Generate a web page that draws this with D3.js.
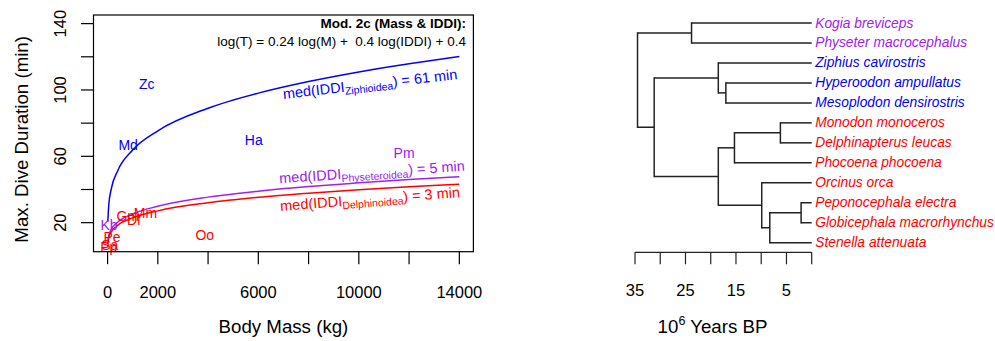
<!DOCTYPE html>
<html>
<head>
<meta charset="utf-8">
<script src="https://cdn.jsdelivr.net/npm/d3@7"></script>
<style>
  html, body { margin: 0; padding: 0; background: #fff; }
  svg { display: block; font-family: "Liberation Sans", Arial, Helvetica, sans-serif; }
</style>
</head>
<body>
<svg id="chart" width="995" height="341"></svg>
<script>
// ---------------- data ----------------
const cladeNames = ["Physeteroidea", "Ziphioidea", "Delphinoidea"];
const cladeColors = ["#A020F0", "#0000FF", "#FF0000"];
const cladeIDDI = [5, 61, 3];

// species points (abbrev, body mass kg, max dive duration min, clade index)
const ptLabel = ["Kb", "Pm", "Zc", "Ha", "Md", "Mm", "Dl", "Pp", "Oo", "Pe", "Gm", "Sa"];
const ptMass  = [60, 11800, 1560, 5820, 820, 1510, 1040, 50, 3870, 180, 800, 90];
const ptDur   = [18.6, 62.2, 103.5, 69.9, 66.9, 25.9, 21.7, 5.6, 12.6, 11.6, 24.0, 6.4];
const ptClade = [0, 0, 1, 1, 1, 2, 2, 2, 2, 2, 2, 2];

// fitted curves
const curveMass = [9, 50, 150, 400, 1000, 2000, 4000, 6000, 8000, 10000, 12000, 14000];
const curveZiph = [20.6, 31.1, 40.5, 51.2, 63.8, 75.4, 89.0, 98.1, 105.1, 110.9, 115.8, 120.2];
const curvePhys = [8.2, 12.4, 16.1, 20.3, 25.3, 29.9, 35.4, 39.0, 41.8, 44.0, 46.0, 47.7];
const curveDelph = [7.4, 11.2, 14.5, 18.4, 22.9, 27.1, 32.0, 35.3, 37.8, 39.9, 41.6, 43.2];

const xTicks = [0, 2000, 4000, 6000, 8000, 10000, 12000, 14000];
const xTickLabels = ["0", "2000", "", "6000", "", "10000", "", "14000"];
const yTicks = [20, 40, 60, 80, 100, 120, 140];
const yTickLabels = ["20", "", "60", "", "100", "", "140"];

// phylogeny
const tipNames = ["Kogia breviceps", "Physeter macrocephalus", "Ziphius cavirostris",
  "Hyperoodon ampullatus", "Mesoplodon densirostris", "Monodon monoceros",
  "Delphinapterus leucas", "Phocoena phocoena", "Orcinus orca",
  "Peponocephala electra", "Globicephala macrorhynchus", "Stenella attenuata"];
const tipClade = [0, 0, 1, 1, 1, 2, 2, 2, 2, 2, 2, 2];
const nodeIds = ["root", "phy", "odo", "ziph", "hypmes", "delphinoid", "monphoc", "mondel", "delphinid", "pepglobsten", "pepglob"];
const nodeAges = [34.5, 23.8, 31.2, 18.5, 17.0, 18.5, 15.3, 6.2, 9.9, 8.3, 2.1];
const nodeChildren = [["phy", "odo"], ["t0", "t1"], ["ziph", "delphinoid"], ["t2", "hypmes"], ["t3", "t4"],
  ["monphoc", "delphinid"], ["mondel", "t7"], ["t5", "t6"], ["t8", "pepglobsten"], ["pepglob", "t11"], ["t9", "t10"]];
const timeTicks = [35, 30, 25, 20, 15, 10, 5, 0];
const timeTickLabels = ["35", "", "25", "", "15", "", "5", ""];

// ---------------- drawing ----------------
const svg = d3.select("#chart");
const FONT_TICK = 16.5, FONT_TITLE = 18.7;

// ---- left panel ----
const x = d3.scaleLinear().domain([-560, 14560]).range([93.5, 473.4]);
const y = d3.scaleLinear().domain([2.5, 145.2]).range([251.7, 15]);

const left = svg.append("g");

// curves
const line = d3.line().x(d => x(d[0])).y(d => y(d[1])).curve(d3.curveMonotoneX);
const curveSets = [curvePhys, curveZiph, curveDelph];
curveSets.forEach((vals, ci) => {
  left.append("path")
    .attr("d", line(curveMass.map((m, i) => [m, vals[i]])))
    .attr("fill", "none").attr("stroke", cladeColors[ci]).attr("stroke-width", 1.5);
});

// point labels
left.selectAll("text.pt").data(ptLabel).join("text")
  .attr("class", "pt")
  .attr("x", (d, i) => x(ptMass[i]))
  .attr("y", (d, i) => y(ptDur[i]))
  .attr("text-anchor", "middle").attr("dominant-baseline", "central")
  .attr("font-size", 14).attr("fill", (d, i) => cladeColors[ptClade[i]])
  .text(d => d);

// box
left.append("rect").attr("x", x.range()[0]).attr("y", y.range()[1])
  .attr("width", x.range()[1] - x.range()[0]).attr("height", y.range()[0] - y.range()[1])
  .attr("fill", "none").attr("stroke", "#000").attr("stroke-width", 1.2);

// x axis
const xAxisG = left.append("g").attr("transform", `translate(0,${y.range()[0]})`);
xAxisG.selectAll("line").data(xTicks).join("line")
  .attr("x1", d => x(d)).attr("x2", d => x(d)).attr("y1", 0).attr("y2", 12.5)
  .attr("stroke", "#000").attr("stroke-width", 1.2);
xAxisG.selectAll("text").data(xTicks).join("text")
  .attr("x", d => x(d)).attr("y", 40).attr("text-anchor", "middle")
  .attr("dominant-baseline", "central").attr("font-size", FONT_TICK)
  .text((d, i) => xTickLabels[i]);

// y axis
const yAxisG = left.append("g").attr("transform", `translate(${x.range()[0]},0)`);
yAxisG.selectAll("line").data(yTicks).join("line")
  .attr("x1", -12.5).attr("x2", 0).attr("y1", d => y(d)).attr("y2", d => y(d))
  .attr("stroke", "#000").attr("stroke-width", 1.2);
yAxisG.selectAll("text").data(yTicks).join("text")
  .attr("transform", d => `translate(-33.5,${y(d)}) rotate(-90)`)
  .attr("text-anchor", "middle").attr("dominant-baseline", "central")
  .attr("font-size", FONT_TICK)
  .text((d, i) => yTickLabels[i]);

// axis titles
left.append("text").attr("x", (x.range()[0] + x.range()[1]) / 2).attr("y", 333)
  .attr("text-anchor", "middle").attr("font-size", FONT_TITLE).text("Body Mass (kg)");
left.append("text").attr("transform", `translate(28,${(y.range()[0] + y.range()[1]) / 2 + 6}) rotate(-90)`)
  .attr("text-anchor", "middle").attr("font-size", FONT_TITLE).text("Max. Dive Duration (min)");

// model annotation
left.append("text").attr("x", 466).attr("y", 28).attr("text-anchor", "end")
  .attr("font-size", 13.5).attr("font-weight", "bold").text("Mod. 2c (Mass & IDDI):");
left.append("text").attr("x", 466).attr("y", 45.5).attr("text-anchor", "end")
  .attr("font-size", 13.5).attr("xml:space", "preserve")
  .text("log(T) = 0.24 log(M) +  0.4 log(IDDI) + 0.4");

// curve labels
const curveLabelPos = [
  { ci: 0, cx: 372, cy: 172, ang: -3.8 },
  { ci: 1, cx: 370, cy: 84, ang: -6.5 },
  { ci: 2, cx: 370, cy: 199, ang: -4.4 }
];
curveLabelPos.forEach(p => {
  const t = left.append("text")
    .attr("transform", `translate(${p.cx},${p.cy}) rotate(${p.ang})`)
    .attr("text-anchor", "middle").attr("dominant-baseline", "central")
    .attr("font-size", 14.5).attr("fill", cladeColors[p.ci]);
  t.append("tspan").text("med(IDDI");
  t.append("tspan").attr("font-size", 10.5).attr("dy", 4).text(cladeNames[p.ci]);
  t.append("tspan").attr("dy", -4).text(`) = ${cladeIDDI[p.ci]} min`);
});

// ---- right panel: phylogeny ----
const tx = d3.scaleLinear().domain([35, 0]).range([635, 811.7]);
const ty = d3.scaleLinear().domain([0, tipNames.length - 1]).range([23, 242.7]);

const nodeMap = {};
tipNames.forEach((n, i) => { nodeMap["t" + i] = { age: 0, y: ty(i), tip: i }; });
nodeIds.forEach((id, i) => { nodeMap[id] = { age: nodeAges[i], kids: nodeChildren[i] }; });
function getY(id) {
  const n = nodeMap[id];
  if (n.y !== undefined) return n.y;
  const ys = n.kids.map(getY);
  n.y = (d3.min(ys) + d3.max(ys)) / 2;
  return n.y;
}
getY("root");

const tree = svg.append("g");
nodeIds.forEach(id => {
  const n = nodeMap[id];
  const ys = n.kids.map(k => nodeMap[k].y);
  tree.append("line").attr("x1", tx(n.age)).attr("x2", tx(n.age))
    .attr("y1", d3.min(ys)).attr("y2", d3.max(ys))
    .attr("stroke", "#222").attr("stroke-width", 1.5).attr("stroke-linecap", "square");
  n.kids.forEach(k => {
    const c = nodeMap[k];
    tree.append("line").attr("x1", tx(n.age)).attr("x2", tx(c.age))
      .attr("y1", c.y).attr("y2", c.y)
      .attr("stroke", "#222").attr("stroke-width", 1.5);
  });
});

tree.selectAll("text.tip").data(tipNames).join("text")
  .attr("class", "tip")
  .attr("x", tx(0) + 3.5).attr("y", (d, i) => ty(i))
  .attr("dominant-baseline", "central").attr("font-size", 13.8)
  .attr("font-style", "italic").attr("fill", (d, i) => cladeColors[tipClade[i]])
  .text(d => d);

// time axis
const tAxis = svg.append("g").attr("transform", "translate(0,252.3)");
tAxis.append("line").attr("x1", tx(35)).attr("x2", tx(0)).attr("y1", 0).attr("y2", 0)
  .attr("stroke", "#222").attr("stroke-width", 1.2);
tAxis.selectAll("line.tk").data(timeTicks).join("line").attr("class", "tk")
  .attr("x1", d => tx(d)).attr("x2", d => tx(d)).attr("y1", 0).attr("y2", 12)
  .attr("stroke", "#222").attr("stroke-width", 1.2);
tAxis.selectAll("text").data(timeTicks).join("text")
  .attr("x", d => tx(d)).attr("y", 38).attr("text-anchor", "middle")
  .attr("dominant-baseline", "central").attr("font-size", FONT_TICK)
  .text((d, i) => timeTickLabels[i]);

const tt = svg.append("text").attr("x", 712.5).attr("y", 333).attr("text-anchor", "middle")
  .attr("font-size", FONT_TITLE);
tt.append("tspan").text("10");
tt.append("tspan").attr("font-size", 12.5).attr("dy", -8).text("6");
tt.append("tspan").attr("dy", 8).text(" Years BP");
</script>
</body>
</html>
